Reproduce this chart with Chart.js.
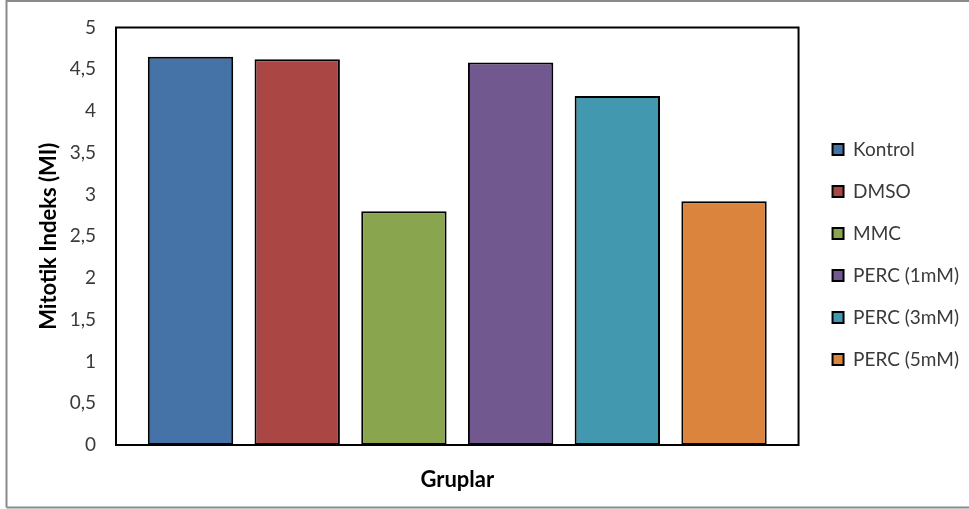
<!DOCTYPE html>
<html>
<head>
<meta charset="utf-8">
<title>Mitotik Indeks (MI)</title>
<script src="https://cdn.jsdelivr.net/npm/chart.js@4"></script>
<style>
  html, body { margin: 0; padding: 0; background: #ffffff; }
  canvas { display: block; }
</style>
</head>
<body>
<canvas id="chart" width="969" height="509"></canvas>
<script>
// Groups and their mitotic index values
const groups = ['Kontrol', 'DMSO', 'MMC', 'PERC (1mM)', 'PERC (3mM)', 'PERC (5mM)'];
const mitoticIndex = [4.65, 4.62, 2.80, 4.58, 4.18, 2.92];
const groupColors = ['#4572A7', '#AA4643', '#89A54E', '#71588F', '#4198AF', '#DB843D'];
const axisTitleX = 'Gruplar';
const axisTitleY = 'Mitotik Indeks (MI)';

const FONT = 'Lato, "Open Sans", sans-serif';

// One bar per group, each as its own dataset so the legend lists every group
const datasets = groups.map((g, i) => ({
  label: g,
  data: [mitoticIndex[i]],
  backgroundColor: groupColors[i],
  borderColor: '#000000',
  borderWidth: 2,
  borderSkipped: false,
  categoryPercentage: 0.938,
  barPercentage: 0.8
}));

// White background, outer frame and the plot-area box
const framePlugin = {
  id: 'frame',
  beforeDraw(chart) {
    const ctx = chart.ctx;
    ctx.save();
    ctx.fillStyle = '#ffffff';
    ctx.fillRect(0, 0, chart.width, chart.height);
    ctx.strokeStyle = '#8a8a8a';
    ctx.lineWidth = 2;
    ctx.beginPath();
    ctx.moveTo(6.5, 507.5);
    ctx.lineTo(6.5, 1);
    ctx.lineTo(chart.width, 1);
    ctx.moveTo(6.5, 507.5);
    ctx.lineTo(chart.width, 507.5);
    ctx.stroke();
    ctx.restore();
  },
  afterDatasetsDraw(chart) {
    const a = chart.chartArea;
    const ctx = chart.ctx;
    ctx.save();
    ctx.strokeStyle = '#000000';
    ctx.lineWidth = 2;
    ctx.strokeRect(a.left, a.top, a.right - a.left, a.bottom - a.top);
    ctx.restore();
  }
};

new Chart(document.getElementById('chart'), {
  type: 'bar',
  data: { labels: [''], datasets },
  plugins: [framePlugin],
  options: {
    responsive: false,
    devicePixelRatio: 1,
    animation: false,
    layout: { padding: { top: 0, left: 0, right: 0, bottom: 0 } },
    scales: {
      x: {
        grid: { display: false },
        border: { display: false },
        ticks: { display: false },
        title: {
          display: true,
          text: axisTitleX,
          color: '#000000',
          font: { family: FONT, size: 22, weight: 'bold' },
          padding: { top: 0, bottom: 16 }
        },
        afterFit(s) { s.height = 64; }
      },
      y: {
        min: 0,
        max: 5,
        grid: { display: false, drawTicks: false },
        border: { display: false },
        ticks: {
          stepSize: 0.5,
          padding: 20,
          color: '#3a3a3a',
          font: { family: FONT, size: 19 },
          callback: v => String(v).replace('.', ',')
        },
        title: {
          display: true,
          text: axisTitleY,
          color: '#000000',
          font: { family: FONT, size: 22, weight: 'bold' },
          padding: { top: 36, bottom: 0 }
        },
        afterFit(s) {
          s.width = 116;
          s.paddingTop = 0;
          s.paddingBottom = 0;
        }
      },
      gap: {
        type: 'linear',
        position: 'right',
        grid: { display: false },
        border: { display: false },
        ticks: { display: false },
        afterFit(s) { s.width = 11; }
      }
    },
    plugins: {
      title: {
        display: true,
        text: '',
        font: { size: 10, lineHeight: 1 },
        padding: { top: 17.5, bottom: 0 }
      },
      legend: {
        position: 'right',
        maxWidth: 162,
        labels: {
          boxWidth: 11,
          boxHeight: 11,
          padding: 23,
          color: '#3a3a3a',
          font: { family: FONT, size: 19 }
        }
      },
      tooltip: { enabled: false }
    }
  }
});
</script>
</body>
</html>
